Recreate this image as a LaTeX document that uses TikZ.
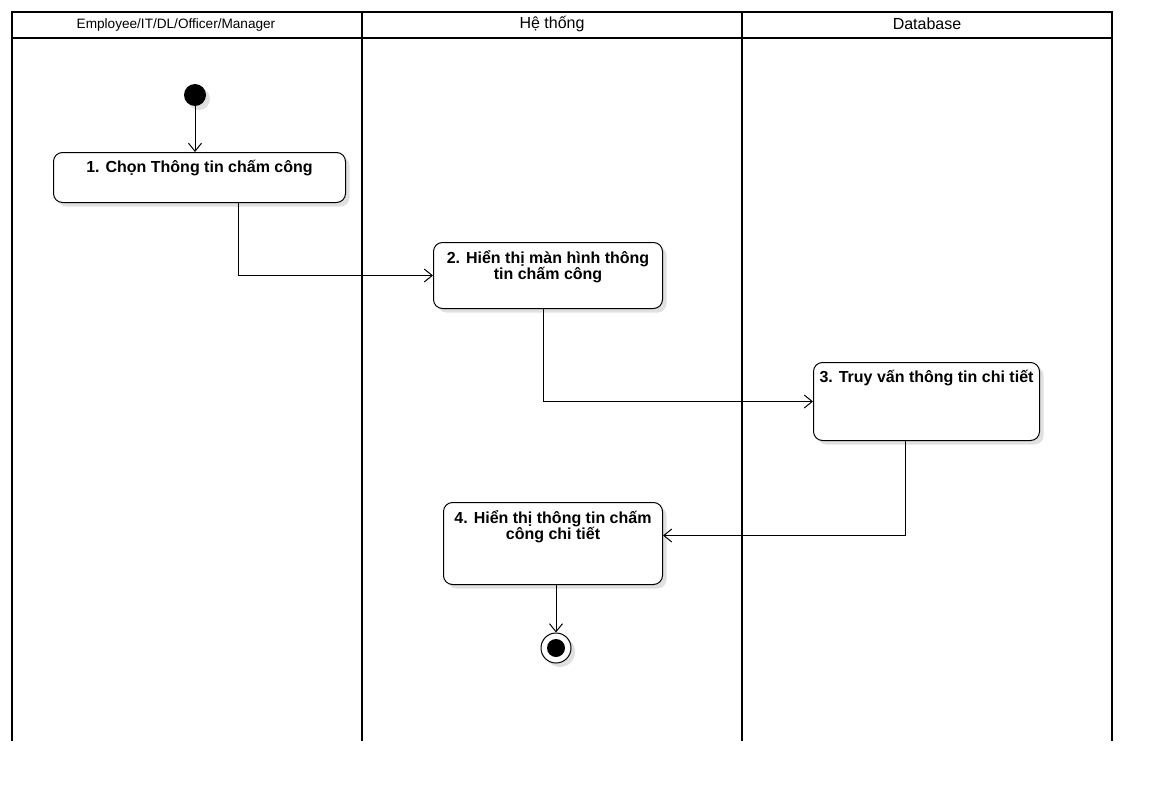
\documentclass[tikz,border=0pt]{standalone}
\usepackage{fontspec}
\setmainfont{Liberation Sans}
\usetikzlibrary{arrows.meta,positioning,shadows}

\begin{document}
\begin{tikzpicture}[
    x=1pt, y=-1pt,
    lane/.style={line width=2.6pt},
    lanetitle/.style={font=\fontsize{16}{16}\selectfont, inner sep=0pt},
    action/.style={rectangle, draw, line width=1pt, rounded corners=9pt, fill=white, anchor=north west,
        drop shadow={shadow xshift=4pt, shadow yshift=-4pt, fill=black!12, opacity=1}},
    actiontext/.style={font=\fontsize{16}{16}\selectfont\bfseries, align=center, anchor=north, inner sep=0pt, yshift=-8pt},
    startnode/.style={circle, fill=black, minimum size=22pt, inner sep=0pt,
        drop shadow={shadow xshift=4pt, shadow yshift=-4pt, fill=black!12, opacity=1}},
    stopnode/.style={circle, draw, line width=1pt, fill=white, minimum size=30pt, inner sep=0pt,
        drop shadow={shadow xshift=4pt, shadow yshift=-4pt, fill=black!12, opacity=1}},
    flow/.style={-{Straight Barb[length=8pt,width=13pt]}, line width=1pt}
]
\useasboundingbox (0,0) rectangle (1162,792);

% LANES
\draw[lane] (12,741) -- (12,12) -- (1112,12) -- (1112,741);
\draw[lane] (12,38) -- (1112,38);
\draw[lane] (362,12) -- (362,741);
\draw[lane] (742,12) -- (742,741);
\node[lanetitle, font=\fontsize{13.6}{13.6}\selectfont] (user) at (176,25) {Employee/IT/DL/Officer/Manager};
\node[lanetitle] (system) at (552,24) {Hệ thống};
\node[lanetitle] (db) at (927,24) {Database};

% ACTIONS
\node[startnode] (start) at (195,95) {};
\node[action, minimum width=292pt, minimum height=50pt,
    label={[actiontext]north:1. Chọn Thông tin chấm công}] (choose) at (53,152) {};
\node[action, minimum width=229pt, minimum height=66pt,
    label={[actiontext]north:2. Hiển thị màn hình thông\\tin chấm công}] (screen) at (433,242) {};
\node[action, minimum width=226pt, minimum height=78pt,
    label={[actiontext]north:3. Truy vấn thông tin chi tiết}] (query) at (813,362) {};
\node[action, minimum width=219pt, minimum height=82pt,
    label={[actiontext]north:4. Hiển thị thông tin chấm\\công chi tiết}] (detail) at (443,502) {};
\node[stopnode] (stop) at (556,648) {};
\fill (stop) circle (9pt);

% FLOWS
\draw[flow] (start) -- (start |- choose.north);
\draw[flow] ([xshift=39pt]choose.south) |- (screen.west);
\draw[flow] ([xshift=-5pt]screen.south) |- (query.west);
\draw[flow] ([xshift=-21pt]query.south) |- ([yshift=8pt]detail.east);
\draw[flow] (detail.south -| stop) -- (stop.north);

\end{tikzpicture}
\end{document}
